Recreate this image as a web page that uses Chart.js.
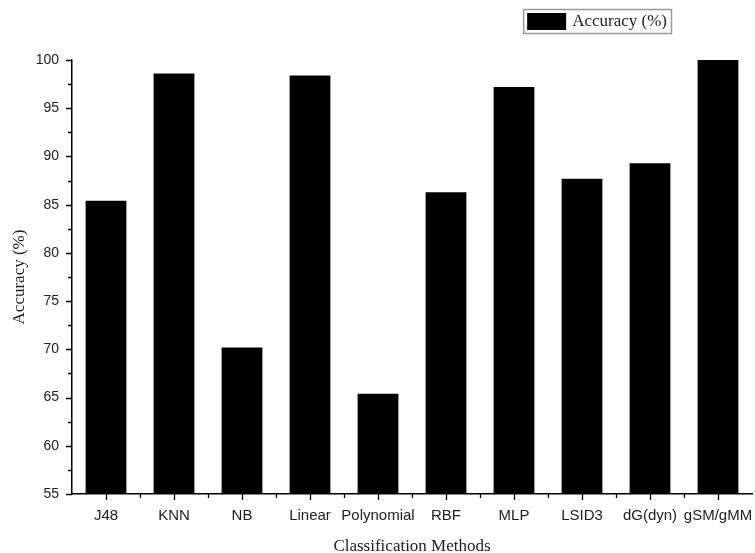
<!DOCTYPE html>
<html lang="en">
<head>
    <meta charset="UTF-8">
    <title>accuracy chart</title>
    <script src="https://cdn.jsdelivr.net/npm/chart.js@4.4.1/dist/chart.umd.min.js"></script>
    <style>
        body {
            margin: 0;
            padding: 0;
            background: #fff;
        }
        #wrap {
            width: 755px;
            height: 553px;
        }
    </style>
</head>
<body>
<div id="wrap">
    <canvas id="myChart" width="755" height="553"></canvas>
</div>
<script>
    // data
    const categories = ['J48', 'KNN', 'NB', 'Linear', 'Polynomial', 'RBF', 'MLP', 'LSID3', 'dG(dyn)', 'gSM/gMM'];
    const accuracy = [85.4, 98.6, 70.2, 98.4, 65.4, 86.3, 97.2, 87.7, 89.3, 100];
    const seriesLabel = 'Accuracy (%)';
    const yMin = 55;
    const yMax = 100;
    const yStep = 5;
    const yMinorStep = 2.5;

    const sans = '"Liberation Sans", Arial, sans-serif';
    const serif = '"Liberation Serif", "Times New Roman", serif';

    // tick marks outside the axes, major + minor
    const axisTicks = {
        id: 'axisTicks',
        afterDraw(chart) {
            const ctx = chart.ctx;
            const xs = chart.scales.x;
            const ys = chart.scales.y;
            const left = chart.chartArea.left;
            const bottom = chart.chartArea.bottom;
            ctx.save();
            ctx.strokeStyle = '#000';
            ctx.lineWidth = 1.3;
            ctx.beginPath();
            for (let v = yMin; v <= yMax; v += yMinorStep) {
                const py = Math.round(ys.getPixelForValue(v)) + 0.5;
                const len = (v % yStep === 0) ? 6 : 4;
                ctx.moveTo(left - len, py);
                ctx.lineTo(left, py);
            }
            for (let i = 0; i < categories.length; i++) {
                const px = Math.round(xs.getPixelForValue(i)) + 0.5;
                ctx.moveTo(px, bottom);
                ctx.lineTo(px, bottom + 6);
                if (i < categories.length - 1) {
                    const pb = Math.round(xs.getPixelForValue(i + 0.5)) + 0.5;
                    ctx.moveTo(pb, bottom);
                    ctx.lineTo(pb, bottom + 4);
                }
            }
            ctx.stroke();
            ctx.restore();
        }
    };

    // boxed legend in the top right corner
    const boxLegend = {
        id: 'boxLegend',
        afterDraw(chart) {
            const ctx = chart.ctx;
            const ds = chart.data.datasets[0];
            ctx.save();
            ctx.font = '17px ' + serif;
            const tw = ctx.measureText(ds.label).width;
            const right = 671;
            const top = 9;
            const h = 24;
            const sw = 39;
            const left = right - 4 - tw - 6 - sw - 4;
            ctx.strokeStyle = '#9a9a9a';
            ctx.lineWidth = 1.5;
            ctx.strokeRect(left + 0.5, top + 0.5, right - left, h);
            ctx.fillStyle = ds.backgroundColor;
            ctx.fillRect(left + 4, top + 4, sw, h - 7);
            ctx.fillStyle = '#222';
            ctx.textBaseline = 'middle';
            ctx.fillText(ds.label, left + 4 + sw + 6, top + h / 2 + 1);
            ctx.restore();
        }
    };

    const ctx = document.getElementById('myChart').getContext('2d');
    const myChart = new Chart(ctx, {
        type: 'bar',
        data: {
            labels: categories,
            datasets: [{
                label: seriesLabel,
                data: accuracy,
                backgroundColor: '#000',
                borderWidth: 0,
                categoryPercentage: 1.0,
                barPercentage: 0.6
            }]
        },
        options: {
            responsive: false,
            animation: false,
            layout: {
                padding: {top: 60, right: 3, bottom: 0, left: 0}
            },
            plugins: {
                legend: {display: false},
                tooltip: {enabled: false}
            },
            scales: {
                x: {
                    grid: {display: false, drawTicks: false},
                    border: {display: true, color: '#000', width: 1.5},
                    ticks: {
                        color: '#222',
                        font: {family: sans, size: 15},
                        padding: 13,
                        maxRotation: 0,
                        autoSkip: false
                    },
                    title: {
                        display: true,
                        text: 'Classification Methods',
                        color: '#222',
                        font: {family: serif, size: 17, lineHeight: 0.8},
                        padding: {top: 0, bottom: 0}
                    },
                    afterFit(scale) {
                        scale.height = 59;
                        scale.paddingLeft = 0;
                        scale.paddingRight = 0;
                    }
                },
                y: {
                    min: yMin,
                    max: yMax,
                    grid: {display: false, drawTicks: false},
                    border: {display: true, color: '#000', width: 1.5},
                    ticks: {
                        stepSize: yStep,
                        color: '#222',
                        font: {family: sans, size: 14},
                        padding: 13
                    },
                    title: {
                        display: true,
                        text: 'Accuracy (%)',
                        color: '#222',
                        font: {family: serif, size: 17, lineHeight: 1.2},
                        padding: {top: 9, bottom: 0}
                    },
                    afterFit(scale) {
                        scale.width = 72;
                    }
                }
            }
        },
        plugins: [axisTicks, boxLegend]
    });
</script>
</body>
</html>
